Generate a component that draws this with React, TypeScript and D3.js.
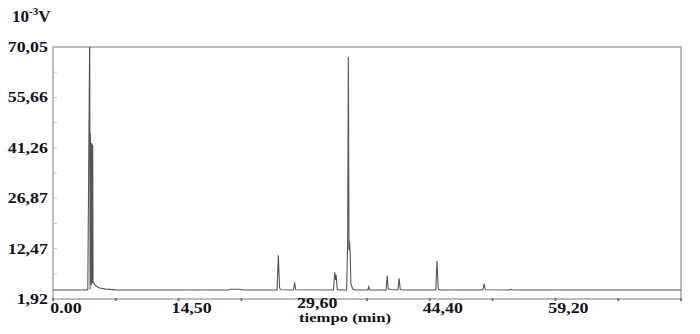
import React from "react";
import * as d3 from "d3";

// Chromatogram trace: [time (min), signal (10^-3 V)]
const trace: [number, number][] = [
  [0, 0.65], [4.1, 0.65], [4.33, 76], [4.37, 0.9], [4.40, 45.5], [4.44, 3],
  [4.47, 42.6], [4.51, 2], [4.54, 42.6], [4.58, 3], [4.61, 42.4], [4.65, 2.5],
  [4.68, 42.0], [4.72, 3.2],
  [4.85, 2.4], [5.1, 1.7], [5.5, 1.2], [6.2, 0.9], [7.5, 0.7],
  [20.6, 0.65], [20.9, 0.85], [22.0, 0.85], [22.3, 0.65],
  [26.4, 0.65], [26.55, 10.6], [26.7, 1.2], [26.9, 0.7],
  [28.35, 0.65], [28.47, 2.85], [28.6, 0.7],
  [33.05, 0.65], [33.2, 5.7], [33.3, 3.5], [33.36, 5.0], [33.5, 0.8], [33.8, 0.65],
  [34.6, 0.65], [34.72, 14], [34.8, 67.2], [34.88, 12], [34.94, 14.5], [35.02, 11],
  [35.1, 2.5], [35.3, 1.0], [35.6, 0.65],
  [37.1, 0.65], [37.2, 1.6], [37.32, 0.65],
  [39.25, 0.65], [39.38, 4.7], [39.5, 0.9], [39.7, 0.8],
  [40.65, 0.65], [40.78, 4.0], [40.92, 0.8], [41.2, 0.65],
  [45.1, 0.65], [45.25, 8.9], [45.4, 0.9], [45.6, 0.65],
  [50.65, 0.65], [50.8, 2.4], [50.95, 0.7],
  [53.8, 0.65], [53.96, 0.85], [54.2, 0.65],
  [74, 0.65],
];

const yTickValues = [70.05, 55.66, 41.26, 26.87, 12.47, -1.92];
const yTickLabels = ["70,05", "55,66", "41,26", "26,87", "12,47", "1,92"];
const xTickValues = [0, 14.8, 29.6, 44.4, 59.2];
const xTickLabels = ["0.00", "14,50", "29,60", "44,40", "59,20"];
const xDomain: [number, number] = [0, 74];
const yDomain: [number, number] = [-1.92, 70.05];

const W = 700, H = 334;
const L = 53, R = 681, T = 47, B = 299;
const font = "'Liberation Serif', 'Times New Roman', serif";
const txt = "#111122";

export default function App() {
  const x = d3.scaleLinear().domain(xDomain).range([L, R]);
  const y = d3.scaleLinear().domain(yDomain).range([B, T]);
  const line = d3.line<[number, number]>().x(d => x(d[0])).y(d => y(d[1]));

  const minorY = d3.range(0, 11).map(i => yDomain[0] + (i * (yDomain[1] - yDomain[0])) / 10);
  const minorX = d3.range(0, 11).map(i => xDomain[0] + (i * (xDomain[1] - xDomain[0])) / 10);

  return (
    <svg width={W} height={H} style={{ position: "absolute", left: 0, top: 0, background: "#fff" }}>
      <defs>
        <clipPath id="plot">
          <rect x={L} y={T} width={R - L} height={B - T} />
        </clipPath>
      </defs>
      {/* header unit */}
      <text x={12} y={22} fontFamily={font} fontWeight="bold" fontSize={17} fill={txt}>
        10<tspan fontSize={11} dy={-7}>-3</tspan><tspan dy={7}>V</tspan>
      </text>

      {/* frame */}
      <rect x={L} y={T} width={R - L} height={B - T} fill="none" stroke="#a0a0a0" strokeWidth={1.4} />

      {/* minor y ticks */}
      {minorY.map((v, i) => (
        <line key={"my" + i} x1={L} x2={L + 4} y1={y(v)} y2={y(v)} stroke="#c8c8c8" strokeWidth={1} />
      ))}
      {/* x tick marks */}
      {minorX.map((v, i) => (
        <rect key={"mx" + i} x={x(v) - 1} y={B - 1} width={2} height={3} fill="#777" />
      ))}

      {/* trace */}
      <g clipPath="url(#plot)">
        <path d={line(trace) || ""} fill="none" stroke="#555" strokeWidth={1.1} strokeLinejoin="miter" />
      </g>

      {/* y labels */}
      {yTickValues.map((v, i) => (
        <g key={"yl" + i} transform={`translate(${L - 5},${y(v) + 5}) scale(1.28,1)`}>
          <text textAnchor="end" fontFamily={font} fontWeight="bold" fontSize={14} fill={txt}>
            {yTickLabels[i]}
          </text>
        </g>
      ))}

      {/* x labels */}
      {xTickValues.map((v, i) => (
        <g key={"xl" + i} transform={`translate(${x(v) + 13},${i === 2 ? 308 : 313}) scale(1.28,1)`}>
          <text textAnchor="middle" fontFamily={font} fontWeight="bold" fontSize={14} fill={txt}>
            {xTickLabels[i]}
          </text>
        </g>
      ))}

      {/* x axis title */}
      <g transform={`translate(345,322) scale(1.28,1)`}>
        <text textAnchor="middle" fontFamily={font} fontWeight="bold" fontSize={13} fill={txt}>
          tiempo (min)
        </text>
      </g>
    </svg>
  );
}
